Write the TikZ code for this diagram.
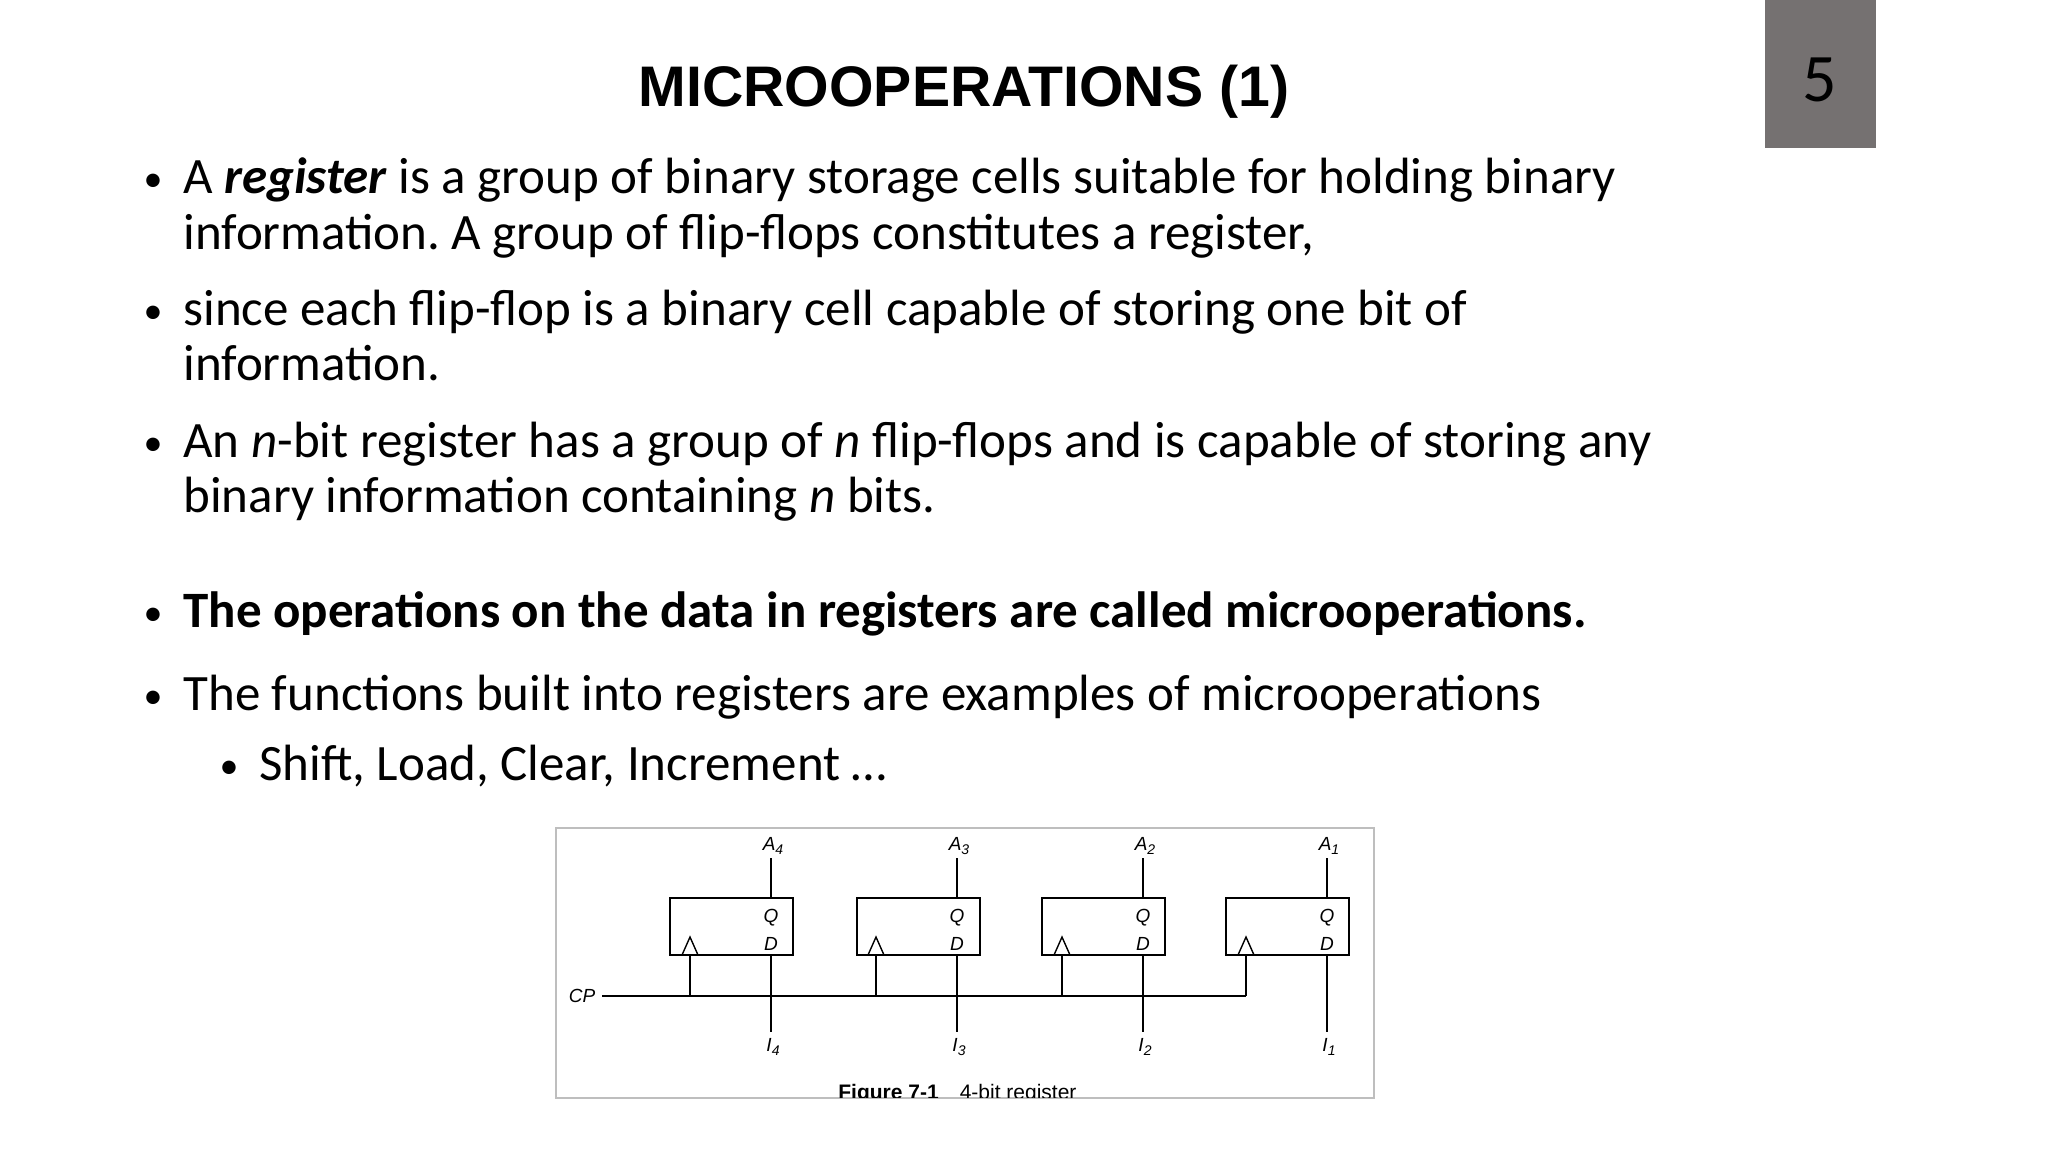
\documentclass[tikz,border=0pt]{standalone}
\usepackage{fontspec}
\setmainfont{Carlito}
\newfontfamily\arialf{Liberation Sans}
\frenchspacing
\newcommand{\mysub}[1]{\raisebox{-0.35ex}{\fontsize{7pt}{8pt}\selectfont #1}}
\begin{document}
\begin{tikzpicture}[x=0.5pt,y=-0.5pt,
  txt/.style={anchor=base west,inner sep=0pt,font=\fontsize{25.5pt}{30pt}\selectfont},
  bul/.style={anchor=base,inner sep=0pt,font=\fontsize{19pt}{22pt}\selectfont},
  ff/.style={draw,line width=0.9pt},
  wire/.style={line width=0.7pt},
  lab/.style={inner sep=0pt,font=\arialf\itshape\fontsize{9.5pt}{11pt}\selectfont}]
\useasboundingbox (0,0) rectangle (2048,1152);
\fill[white] (0,0) rectangle (2048,1152);
\fill[fill={rgb,255:red,117;green,113;blue,113}] (1765,0) rectangle (1876,148);
\node[inner sep=0pt,font=\fontsize{34pt}{40pt}\selectfont] (pg) at (1820,80) {5};
\node[inner sep=0pt,anchor=base,font=\arialf\bfseries\fontsize{28.6pt}{34pt}\selectfont] (title) at (964,106) {MICROOPERATIONS (1)};
% bullets
\node[bul] (b1) at (153,191) {•};
\node[txt] (t1) at (183,193) {A \textbf{\textit{register}} is a group of binary storage cells suitable for holding binary};
\node[txt] (t1b) at (183,249) {information. A group of flip-flops constitutes a register,};
\node[bul] (b2) at (153,323) {•};
\node[txt] (t2) at (183,325) {since each flip-flop is a binary cell capable of storing one bit of};
\node[txt] (t2b) at (183,380) {information.};
\node[bul] (b3) at (153,455) {•};
\node[txt] (t3) at (183,457) {An \textit{n}-bit register has a group of \textit{n} flip-flops and is capable of storing any};
\node[txt] (t3b) at (183,512) {binary information containing \textit{n} bits.};
\node[bul] (b4) at (153,625) {•};
\node[txt] (t4) at (183,627) {\textbf{The operations on the data in registers are called microoperations.}};
\node[bul] (b5) at (153,708) {•};
\node[txt] (t5) at (183,710) {The functions built into registers are examples of microoperations};
\node[bul] (b6) at (229,778) {•};
\node[txt] (t6) at (259,780) {Shift, Load, Clear, Increment …};
% figure
\draw[line width=0.8pt,draw={rgb,255:red,190;green,190;blue,190}] (556,828) rectangle (1374,1098);
\begin{scope}
\clip (556,828) rectangle (1374,1097);
\node[inner sep=0pt,anchor=base west,font=\arialf\fontsize{10.5pt}{12pt}\selectfont] (cap) at (838,1099) {\textbf{Figure 7-1}\quad 4-bit register};
\end{scope}
\node[lab] (cp) at (582,996) {CP};
\coordinate (cpe) at (602,996);
\foreach \n/\l/\q/\c/\i in {4/670/771/690/4,3/857/957/876/3,2/1042/1143/1062/2,1/1226/1327/1246/1}{
  \draw[ff] (\l,898) rectangle ++(123,57);
  \node[lab] (q\n) at (\q,918) {Q};
  \node[lab] (d\n) at (\q,944) {D};
  \draw[wire] (\c-8,955) -- (\c,937) -- (\c+8,955);
  \node[lab] (a\n) at (\q+2,846) {A\mysub{\i}};
  \node[lab] (i\n) at (\q+2,1047) {I\mysub{\i}};
  \draw[wire] (\q,858) -- (\q,898);
  \draw[wire] (\q,955) -- (\q,1032);
  \draw[wire] (\c,955) -- (\c,996);
}
\draw[wire] (cpe) -- (1246,996);
\end{tikzpicture}
\end{document}
